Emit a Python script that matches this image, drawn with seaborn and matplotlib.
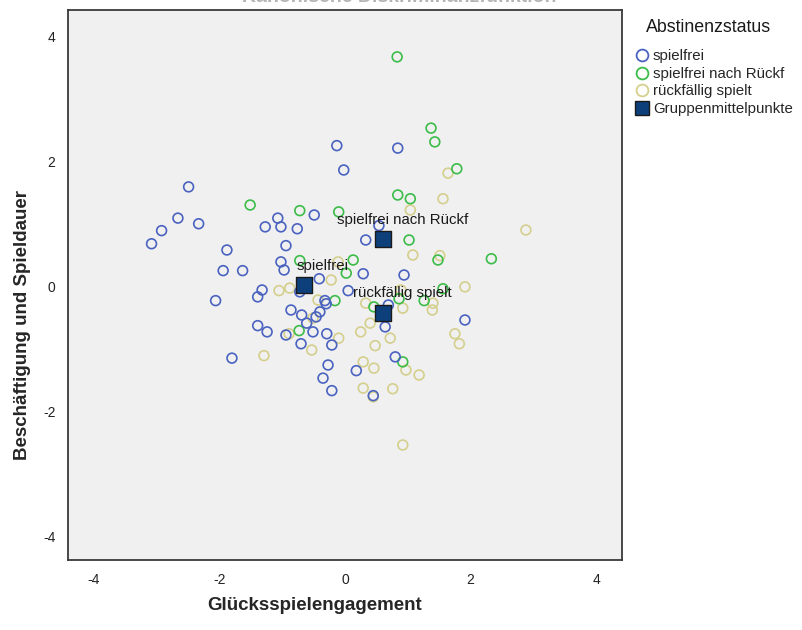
import pandas as pd
import matplotlib
matplotlib.use("Agg")
import matplotlib.pyplot as plt
from matplotlib.lines import Line2D
import seaborn as sns

# =====================================================
# Data
# =====================================================

groups = ["spielfrei", "spielfrei nach Rückf", "rückfällig spielt"]
colors = ["#4a62c0", "#3cbc48", "#d4cf8c"]

spielfrei_x = [-2.49, -2.66, -2.92, -3.08, -2.33, -1.07, -1.27, -1.02, -0.76, -0.49,
               -0.94, -1.88, -1.94, -1.63, -1.02, -0.97, -0.41, -1.32, -1.39, -2.06,
               -0.86, -0.69, -0.72, -0.13, -0.02, 0.84, 0.33, 0.54, 0.29, 0.94,
               0.05, -0.32, -0.30, 0.69, -0.40, -0.46, -0.61, -1.39, -1.24, -0.94,
               -0.51, -0.29, 0.64, 1.91, -0.70, -0.21, 0.80, -0.27, 0.18, -0.35,
               -0.21, 0.45, -1.80]
spielfrei_y = [1.60, 1.10, 0.90, 0.69, 1.01, 1.10, 0.96, 0.96, 0.93, 1.15,
               0.66, 0.59, 0.26, 0.26, 0.40, 0.27, 0.13, -0.05, -0.16, -0.22,
               -0.37, -0.45, -0.08, 2.26, 1.87, 2.22, 0.75, 0.98, 0.21, 0.19,
               -0.06, -0.22, -0.27, -0.29, -0.40, -0.48, -0.58, -0.62, -0.72, -0.77,
               -0.72, -0.75, -0.64, -0.53, -0.91, -0.93, -1.12, -1.25, -1.34, -1.46,
               -1.66, -1.74, -1.14]

nach_rueckf_x = [0.83, 1.37, 1.43, 1.78, 0.84, 1.04, 1.02, 1.48, 2.33, 0.13,
                 -0.72, 0.02, 1.56, 1.26, 0.86, 0.46, -0.16, -0.73, 0.92, -1.51,
                 -0.72, -0.10]
nach_rueckf_y = [3.68, 2.54, 2.32, 1.89, 1.47, 1.41, 0.75, 0.43, 0.45, 0.43,
                 0.42, 0.22, -0.03, -0.22, -0.19, -0.32, -0.22, -0.70, -1.20, 1.31,
                 1.22, 1.20]

rueckfaellig_x = [-1.05, -0.88, -0.22, -0.11, -0.43, 0.33, 0.92, 1.40, 1.39, 0.89,
                  1.91, 1.08, 1.51, 1.64, 1.56, 1.04, 2.88, -0.51, -0.89, -0.10,
                  0.25, 0.40, 0.72, 1.75, 1.82, -0.53, 0.48, -1.29, 0.29, 0.46,
                  0.97, 1.18, 0.29, 0.76, 0.45, 0.92]
rueckfaellig_y = [-0.06, -0.02, 0.11, 0.40, -0.21, -0.26, -0.34, -0.26, -0.37, -0.05,
                  0.00, 0.51, 0.50, 1.82, 1.41, 1.23, 0.91, -0.50, -0.75, -0.82,
                  -0.72, -0.58, -0.82, -0.75, -0.91, -1.01, -0.94, -1.10, -1.20, -1.30,
                  -1.33, -1.41, -1.62, -1.63, -1.76, -2.53]

centroid_x = [-0.66, 0.61, 0.61]
centroid_y = [0.03, 0.77, -0.41]

df = pd.concat([
    pd.DataFrame({"x": rueckfaellig_x, "y": rueckfaellig_y, "Gruppe": groups[2]}),
    pd.DataFrame({"x": nach_rueckf_x, "y": nach_rueckf_y, "Gruppe": groups[1]}),
    pd.DataFrame({"x": spielfrei_x, "y": spielfrei_y, "Gruppe": groups[0]}),
], ignore_index=True)

centroids = pd.DataFrame({"x": centroid_x, "y": centroid_y, "Gruppe": groups})

# =====================================================
# Style
# =====================================================

sns.set_style("white")
plt.rcParams["font.family"] = ["Liberation Sans", "DejaVu Sans"]
plt.rcParams["axes.unicode_minus"] = False

fig = plt.figure(figsize=(8.02, 6.3), dpi=100)
ax = fig.add_axes([68 / 802, 1 - 560 / 630, 554 / 802, 550 / 630])
ax.set_facecolor("#f0f0f0")

# =====================================================
# Scatter (hollow circles) + group centroids
# =====================================================

sns.scatterplot(data=df, x="x", y="y", hue="Gruppe", hue_order=groups,
                palette=colors, s=50, legend=False, ax=ax)
pts = ax.collections[0]
pts.set_edgecolors(pts.get_facecolors())
pts.set_facecolors("none")
pts.set_linewidths(1.2)

sns.scatterplot(data=centroids, x="x", y="y", marker="s", s=135,
                color="#0d3f7a", edgecolor="#1a1a1a", linewidth=1.0,
                legend=False, ax=ax, zorder=5)

for _, row in centroids.iterrows():
    ax.annotate(row["Gruppe"], xy=(row["x"], row["y"]), xytext=(13.7, 13.7),
                textcoords="offset points", ha="center", va="center",
                fontsize=10.8, color="#1a1a1a", zorder=6)

# =====================================================
# Axes
# =====================================================

ax.set_xlim(-4.41, 4.41)
ax.set_ylim(-4.37, 4.43)
ax.set_xticks([-4, -2, 0, 2, 4])
ax.set_yticks([-4, -2, 0, 2, 4])
ax.tick_params(axis="both", direction="out", length=6, width=1.2,
               color="#3a3a3a", labelsize=10, labelcolor="#222222", pad=3)
for sp in ax.spines.values():
    sp.set_color("#3a3a3a")
    sp.set_linewidth(1.3)

ax.set_xlabel("Glücksspielengagement", fontsize=13.5, fontweight="bold")
ax.set_ylabel("Beschäftigung und Spieldauer", fontsize=13.5, fontweight="bold")
ax.xaxis.set_label_coords(0.446, -0.067)
ax.yaxis.set_label_coords(-0.067, 0.428)

# title, cut off at the top edge as in the reference
fig.text(0.4975, 1 - 1.5 / 630, "Kanonische Diskriminanzfunktion",
         ha="center", va="baseline", fontsize=14, fontweight="bold",
         color="#b4b4b4")

# =====================================================
# Legend
# =====================================================

fig.text(709 / 802, 1 - 28 / 630, "Abstinenzstatus", ha="center",
         va="center", fontsize=12.8, color="#1a1a1a")

handles = [Line2D([], [], linestyle="none", marker="o", markersize=8.5,
                  markerfacecolor="none", markeredgecolor=c, markeredgewidth=1.3)
           for c in colors]
handles.append(Line2D([], [], linestyle="none", marker="s", markersize=10,
                      markerfacecolor="#0d3f7a", markeredgecolor="#1a1a1a",
                      markeredgewidth=1.0))
labels = groups + ["Gruppenmittelpunkte"]

fig.legend(handles, labels, loc="upper left",
           bbox_to_anchor=(635 / 802, 1 - 49 / 630), frameon=False,
           fontsize=10.8, borderpad=0, borderaxespad=0, handlelength=0.9,
           handletextpad=0.3, labelspacing=0.25)

fig.savefig("out.png", dpi=100)
plt.close(fig)
